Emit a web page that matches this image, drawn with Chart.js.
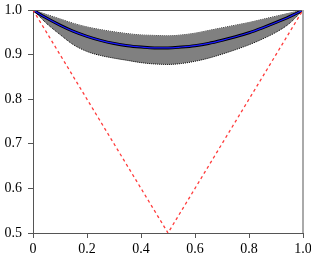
<!DOCTYPE html>
<html>
<head>
<meta charset="utf-8">
<script src="https://cdn.jsdelivr.net/npm/chart.js@4"></script>
<style>
  html, body { margin: 0; padding: 0; background: #fff; }
  #wrap { width: 311px; height: 259px; }
</style>
</head>
<body>
<div id="wrap"><canvas id="chart" width="311" height="259"></canvas></div>
<script>
const xs = [0, 0.05, 0.1, 0.15, 0.2, 0.25, 0.3, 0.35, 0.4, 0.45, 0.5, 0.55, 0.6, 0.65, 0.7, 0.75, 0.8, 0.85, 0.9, 0.95, 1];
const meanVals = [1.0, 0.982, 0.966, 0.952, 0.941, 0.932, 0.925, 0.920, 0.917, 0.915, 0.915, 0.917, 0.920, 0.925, 0.932, 0.940, 0.949, 0.960, 0.972, 0.985, 1.0];
const upperVals = [1.0, 0.990, 0.980, 0.970, 0.962, 0.956, 0.951, 0.947, 0.944, 0.943, 0.942, 0.944, 0.948, 0.954, 0.960, 0.966, 0.972, 0.979, 0.986, 0.993, 1.0];
const lowerVals = [1.0, 0.970, 0.945, 0.922, 0.907, 0.898, 0.892, 0.887, 0.882, 0.879, 0.878, 0.880, 0.885, 0.892, 0.901, 0.911, 0.922, 0.935, 0.950, 0.970, 1.0];
const refX = [0, 0.5, 1];
const refY = [1, 0.5, 1];
const xTicks = [0, 0.2, 0.4, 0.6, 0.8, 1];
const yTicks = [0.5, 0.6, 0.7, 0.8, 0.9, 1];

const pts = (xv, yv) => xv.map((x, i) => ({ x: x, y: yv[i] }));
const font = { family: "'Liberation Serif', 'Times New Roman', serif", size: 14 };

// frame on top and right
const frame = {
  id: "frame",
  afterDraw(chart) {
    const { ctx, chartArea: a } = chart;
    ctx.save();
    ctx.strokeStyle = "#555";
    ctx.lineWidth = 1;
    ctx.beginPath();
    ctx.moveTo(a.left, a.top + 0.5);
    ctx.lineTo(a.right, a.top + 0.5);
    ctx.stroke();
    ctx.strokeStyle = "#aaa";
    ctx.lineWidth = 2;
    ctx.beginPath();
    ctx.moveTo(a.right, a.top);
    ctx.lineTo(a.right, a.bottom);
    ctx.stroke();
    ctx.restore();
  }
};

new Chart(document.getElementById("chart"), {
  type: "line",
  data: {
    datasets: [
      {
        data: pts(xs, upperVals),
        borderColor: "#000",
        borderWidth: 1,
        borderDash: [1, 1],
        pointRadius: 0,
        cubicInterpolationMode: "monotone",
        fill: false,
        order: 4
      },
      {
        data: pts(xs, lowerVals),
        borderColor: "#000",
        borderWidth: 1,
        borderDash: [1, 1],
        backgroundColor: "#808080",
        pointRadius: 0,
        cubicInterpolationMode: "monotone",
        fill: "-1",
        order: 3
      },
      {
        data: pts(xs, meanVals),
        borderColor: "#000",
        borderWidth: 3,
        pointRadius: 0,
        cubicInterpolationMode: "monotone",
        order: 2
      },
      {
        data: pts(xs, meanVals),
        borderColor: "#1a1aff",
        borderWidth: 1.2,
        pointRadius: 0,
        cubicInterpolationMode: "monotone",
        order: 1
      },
      {
        data: pts(refX, refY),
        borderColor: "#ff3b3b",
        borderWidth: 1.3,
        borderDash: [3, 3],
        pointRadius: 0,
        tension: 0,
        order: 0
      }
    ]
  },
  options: {
    responsive: false,
    animation: false,
    layout: { padding: { top: 10, right: 8, left: 0, bottom: 0 } },
    plugins: { legend: { display: false }, tooltip: { enabled: false } },
    scales: {
      x: {
        type: "linear",
        min: 0,
        max: 1,
        afterBuildTicks: s => { s.ticks = xTicks.map(v => ({ value: v })); },
        afterFit: s => { s.height = 26; s.paddingLeft = 0; s.paddingRight = 0; },
        grid: { drawOnChartArea: false, drawTicks: true, tickLength: 5, color: "#555" },
        border: { display: true, color: "#555", width: 1 },
        ticks: { color: "#000", font: font, padding: 3, maxRotation: 0 }
      },
      y: {
        type: "linear",
        min: 0.5,
        max: 1,
        afterBuildTicks: s => { s.ticks = yTicks.map(v => ({ value: v })); },
        afterFit: s => { s.width = 33; s.paddingTop = 0; s.paddingBottom = 0; },
        grid: { drawOnChartArea: false, drawTicks: true, tickLength: 5, color: "#555" },
        border: { display: true, color: "#555", width: 1 },
        ticks: { color: "#000", font: font, padding: 6 }
      }
    }
  },
  plugins: [frame]
});
</script>
</body>
</html>
